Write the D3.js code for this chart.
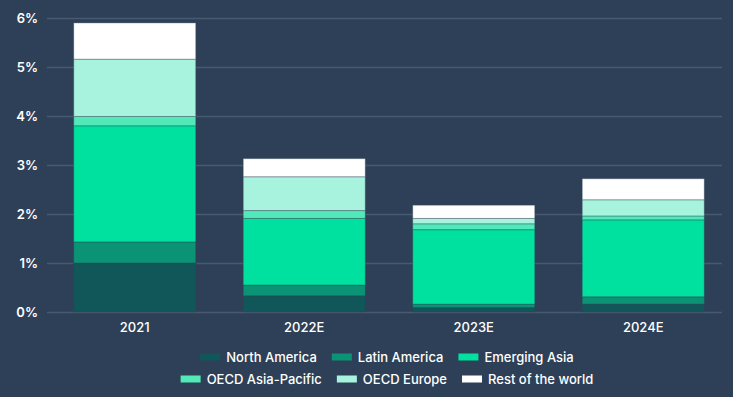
<!DOCTYPE html>
<html>
<head>
<meta charset="utf-8">
<script src="https://cdn.jsdelivr.net/npm/d3@7"></script>
<style>
  html, body { margin: 0; padding: 0; background: #2e4057; }
  svg { display: block; }
  text { font-family: Inter, "Open Sans", sans-serif; fill: #ffffff; }
</style>
</head>
<body>
<div id="chart"></div>
<script>
// categories and series (percent)
var years = ["2021", "2022E", "2023E", "2024E"];
var regions = ["North America", "Latin America", "Emerging Asia", "OECD Asia-Pacific", "OECD Europe", "Rest of the world"];
var colors = ["#11575a", "#0a9374", "#00e09e", "#52e8b8", "#a8f3de", "#ffffff"];
var northAmerica = [1.00, 0.33, 0.09, 0.16];
var latinAmerica = [0.43, 0.22, 0.07, 0.15];
var emergingAsia = [2.37, 1.36, 1.52, 1.57];
var oecdAsiaPacific = [0.19, 0.16, 0.12, 0.08];
var oecdEurope = [1.17, 0.69, 0.11, 0.33];
var restOfWorld = [0.74, 0.37, 0.27, 0.43];
var yTicks = [0, 1, 2, 3, 4, 5, 6];

var series = [northAmerica, latinAmerica, emergingAsia, oecdAsiaPacific, oecdEurope, restOfWorld];

const width = 733, height = 397;
const margin = {top: 18, right: 11, bottom: 85, left: 47};

var rows = years.map(function(y, i) {
  var r = {year: y};
  regions.forEach(function(k, j) { r[k] = series[j][i]; });
  return r;
});

var svg = d3.select("#chart").append("svg")
  .attr("width", width)
  .attr("height", height);

var x = d3.scaleBand()
  .domain(years)
  .range([50, 728])
  .paddingInner(0.28)
  .paddingOuter(0.14);

var y = d3.scaleLinear()
  .domain([0, 6])
  .range([height - margin.bottom, margin.top]);

// grid lines
svg.append("g")
  .selectAll("line")
  .data(yTicks)
  .enter().append("line")
  .attr("x1", margin.left)
  .attr("x2", width - margin.right)
  .attr("y1", function(d) { return Math.round(y(d)) + 0.5; })
  .attr("y2", function(d) { return Math.round(y(d)) + 0.5; })
  .attr("stroke", "#485a70")
  .attr("stroke-width", 1.5);

// y labels
svg.append("g")
  .selectAll("text")
  .data(yTicks)
  .enter().append("text")
  .attr("x", 38)
  .attr("y", function(d) { return y(d); })
  .attr("dy", "0.35em")
  .attr("text-anchor", "end")
  .attr("font-size", 13)
  .attr("font-weight", 600)
  .text(function(d) { return d + "%"; });

// bars
var stacked = d3.stack().keys(regions)(rows);

svg.append("g")
  .selectAll("g")
  .data(stacked)
  .enter().append("g")
  .attr("fill", function(d, i) { return colors[i]; })
  .selectAll("rect")
  .data(function(d) { return d; })
  .enter().append("rect")
  .attr("x", function(d) { return x(d.data.year); })
  .attr("width", x.bandwidth())
  .attr("y", function(d) { return y(d[1]); })
  .attr("height", function(d) { return y(d[0]) - y(d[1]); })
  .attr("stroke", "rgba(46,64,87,0.35)")
  .attr("stroke-width", 1);

// x labels
svg.append("g")
  .selectAll("text")
  .data(years)
  .enter().append("text")
  .attr("x", function(d) { return x(d) + x.bandwidth() / 2; })
  .attr("y", 327)
  .attr("dy", "0.35em")
  .attr("text-anchor", "middle")
  .attr("font-size", 13)
  .attr("font-weight", 500)
  .text(function(d) { return d; });

// legend, two centred rows
var legendRows = [[0, 1, 2], [3, 4, 5]];
var legendY = [357, 379];
var legend = svg.append("g");
legendRows.forEach(function(row, r) {
  var items = row.map(function(i) {
    var g = legend.append("g");
    g.append("rect")
      .attr("width", 20).attr("height", 7)
      .attr("y", -3.5)
      .attr("fill", colors[i]);
    var t = g.append("text")
      .attr("x", 26)
      .attr("dy", "0.35em")
      .attr("font-size", 13)
      .attr("font-weight", 500)
      .text(regions[i]);
    return {g: g, w: 26 + t.node().getComputedTextLength()};
  });
  var gap = 15;
  var total = d3.sum(items, function(d) { return d.w; }) + gap * (items.length - 1);
  var cx = 387 - total / 2;
  items.forEach(function(it) {
    it.g.attr("transform", "translate(" + cx + "," + legendY[r] + ")");
    cx += it.w + gap;
  });
});
</script>
</body>
</html>
